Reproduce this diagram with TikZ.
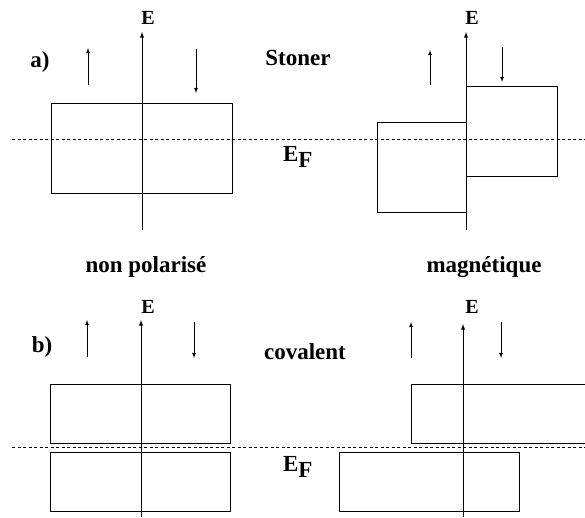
\documentclass[tikz,border=0pt]{standalone}
\usepackage{fontspec}
\setmainfont{Liberation Serif}
\tikzset{
  lbl/.style={font=\fontsize{23}{27}\selectfont\bfseries},
  elbl/.style={font=\fontsize{20}{24}\selectfont\bfseries},
  axis/.style={->,>=latex,line width=0.9pt},
  spin/.style={->,>=latex,line width=0.8pt},
  band/.style={line width=0.9pt},
  fermi/.style={line width=0.9pt,dash pattern=on 3pt off 2.5pt}
}
\begin{document}
\begin{tikzpicture}[x=1pt,y=-1pt]
    \useasboundingbox (0,0) rectangle (585,517);
    % labels
    \node[lbl] (la) at (40,62) {a)};
    \node[lbl] (lb) at (42,347) {b)};
    \node[lbl] (stoner) at (298,58) {Stoner};
    \node[lbl] (coval) at (305,352) {covalent};
    \node[lbl] (nonpol) at (146,267) {non polaris\'e};
    \node[lbl] (magn) at (484,267) {magn\'etique};
    \node[lbl] (efa) at (298,157) {E$_{\textbf{F}}$};
    \node[lbl] (efb) at (298,467) {E$_{\textbf{F}}$};
    % E axes
    \node[elbl] (ea1) at (148,18) {E};\node[elbl] (ea2) at (472,18) {E};
    \node[elbl] (eb1) at (148,307) {E};\node[elbl] (eb2) at (472,307) {E};
    \coordinate (a1b) at (142,230);\coordinate (a1t) at (142,32);
    \coordinate (a2b) at (466,230);\coordinate (a2t) at (466,32);
    \coordinate (b1b) at (141,517);\coordinate (b1t) at (141,320);
    \coordinate (b2b) at (463,517);\coordinate (b2t) at (463,324);
    \draw[axis] (a1b) -- (a1t);\draw[axis] (a2b) -- (a2t);
    \draw[axis] (b1b) -- (b1t);\draw[axis] (b2b) -- (b2t);
    % spin arrows
    \coordinate (ua1) at (88,85);\coordinate (ua1t) at (88,48);
    \coordinate (da1) at (196,49);\coordinate (da1t) at (196,93);
    \coordinate (ua2) at (430,85);\coordinate (ua2t) at (430,50);
    \coordinate (da2) at (502,47);\coordinate (da2t) at (502,82);
    \coordinate (ub1) at (87,357);\coordinate (ub1t) at (87,320);
    \coordinate (db1) at (194,322);\coordinate (db1t) at (194,358);
    \coordinate (ub2) at (411,358);\coordinate (ub2t) at (411,322);
    \coordinate (db2) at (501,322);\coordinate (db2t) at (501,358);
    \draw[spin] (ua1) -- (ua1t);\draw[spin] (da1) -- (da1t);
    \draw[spin] (ua2) -- (ua2t);\draw[spin] (da2) -- (da2t);
    \draw[spin] (ub1) -- (ub1t);\draw[spin] (db1) -- (db1t);
    \draw[spin] (ub2) -- (ub2t);\draw[spin] (db2) -- (db2t);
    % bands
    \draw[band] (51,103) rectangle (232,193);
    \draw[band] (466,122) -- (377,122) -- (377,212) -- (466,212);
    \draw[band] (466,86) -- (557,86) -- (557,176) -- (466,176);
    \draw[band] (50,384) rectangle (230,443);
    \draw[band] (50,452) rectangle (230,511);
    \draw[band] (592,384) -- (411,384) -- (411,443) -- (592,443);
    \draw[band] (339,452) rectangle (519,511);
    % Fermi levels
    \draw[fermi] (12,139) -- (585,139);
    \draw[fermi] (12,447) -- (585,447);
\end{tikzpicture}
\end{document}
